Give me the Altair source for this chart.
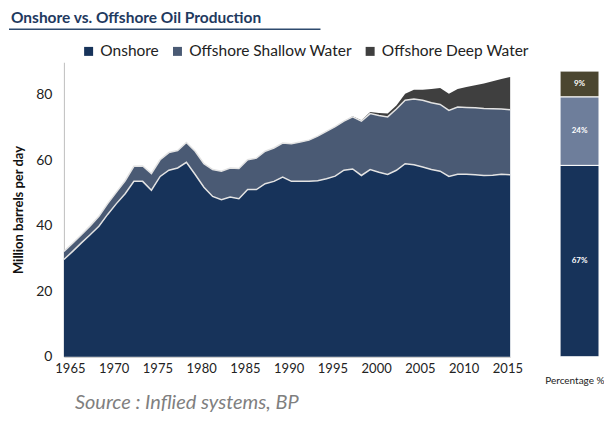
import altair as alt
import pandas as pd

# ---------------- data ----------------
years = list(range(1965, 2017))

onshore = [29.7, 32.2, 34.8, 37.3, 39.9, 43.5, 46.8, 49.8, 53.6, 53.6,
           50.9, 55.1, 57.0, 57.7, 59.4, 55.7, 51.8, 49.0, 48.0, 48.8,
           48.3, 51.1, 51.1, 52.9, 53.6, 54.9, 53.6, 53.6, 53.6, 53.8,
           54.4, 55.2, 57.0, 57.4, 55.4, 57.2, 56.4, 55.7, 57.0, 59.0,
           58.7, 58.0, 57.2, 56.7, 55.1, 55.8, 55.8, 55.6, 55.4, 55.5,
           55.8, 55.6]

shallow = [2.5, 2.5, 2.5, 2.7, 3.0, 3.3, 3.5, 4.0, 4.6, 4.7,
           5.1, 5.1, 5.4, 5.3, 6.1, 7.1, 7.2, 8.2, 8.7, 8.9,
           9.2, 9.1, 9.6, 9.9, 10.2, 10.4, 11.5, 12.0, 12.6, 13.6,
           14.5, 15.1, 15.0, 15.9, 16.6, 17.1, 17.3, 17.6, 18.7, 19.4,
           20.1, 20.4, 20.4, 20.4, 20.2, 20.5, 20.4, 20.5, 20.5, 20.3,
           19.9, 19.9]

deep = [0, 0, 0, 0, 0, 0, 0, 0, 0, 0,
        0, 0, 0, 0, 0, 0, 0, 0, 0, 0,
        0, 0, 0, 0, 0, 0, 0, 0, 0, 0,
        0, 0, 0, 0.2, 0.3, 0.5, 0.8, 1.0, 1.1, 2.0,
        2.8, 3.2, 4.2, 5.0, 5.1, 5.5, 6.2, 6.9, 7.6, 8.4,
        9.2, 10.0]

series_names = ["Onshore", "Offshore Shallow Water", "Offshore Deep Water"]
area_colors = ["#17335A", "#4A5A74", "#3F3F3F"]

share_pct = [67, 24, 9]
share_colors = ["#17335A", "#6E7E9B", "#4B4630"]

x_tick_years = [1965, 1970, 1975, 1980, 1985, 1990, 1995, 2000, 2005, 2010, 2015]
y_tick_values = [0, 20, 40, 60, 80]

title_text = "Onshore vs. Offshore Oil Production"
source_text = "Source : Inflied systems, BP"
y_title = "Million barrels per day"
share_title = "Percentage %"

# ---------------- tables ----------------
rows = []
for i, yr in enumerate(years):
    for k, (name, vals) in enumerate(zip(series_names, [onshore, shallow, deep])):
        rows.append({"year": yr, "series": name, "value": vals[i], "ord": k})
area_df = pd.DataFrame(rows)

line_rows = []
for i, yr in enumerate(years):
    line_rows.append({"year": yr, "edge": "onshore", "top": onshore[i]})
    line_rows.append({"year": yr, "edge": "shallow", "top": onshore[i] + shallow[i]})
line_df = pd.DataFrame(line_rows)

share_df = pd.DataFrame({
    "series": series_names,
    "pct": share_pct,
    "ord": [0, 1, 2],
    "label": [f"{p}%" for p in share_pct],
    "panel": ["share"] * 3,
})

# ---------------- left panel ----------------
x_scale = alt.Scale(domain=[years[0], years[-1]], nice=False, zero=False)
x_axis = alt.Axis(values=x_tick_years, format="d", title=None, ticks=False, grid=False,
                  domainColor="#BFBFBF", labelFontSize=13, labelColor="#222222",
                  labelPadding=6, labelFlush=False, labelOverlap=False, labelOffset=6)
y_scale = alt.Scale(domain=[0, 90], nice=False)
y_axis = alt.Axis(values=y_tick_values, title=y_title, titleFontSize=13,
                  titleFontWeight="bold", titleColor="#111111", titlePadding=10,
                  labelFontSize=14, labelColor="#222222", labelPadding=12,
                  ticks=False, grid=False, domainColor="#BFBFBF")

areas = alt.Chart(area_df).mark_area(opacity=1).encode(
    x=alt.X("year:Q", scale=x_scale, axis=x_axis),
    y=alt.Y("value:Q", stack="zero", scale=y_scale, axis=y_axis),
    color=alt.Color("series:N",
                    scale=alt.Scale(domain=series_names, range=area_colors),
                    legend=alt.Legend(orient="none", legendX=17, legendY=-19,
                                      direction="horizontal", title=None,
                                      symbolType="square", symbolSize=81,
                                      symbolStrokeWidth=0, labelFontSize=15.5,
                                      labelColor="#222222", labelOffset=4,
                                      labelLimit=400, columnPadding=10)),
    order=alt.Order("ord:Q", sort="ascending"),
)

edges = alt.Chart(line_df).mark_line(color="#E3E3E3", strokeWidth=1.5).encode(
    x=alt.X("year:Q", title=None),
    y=alt.Y("top:Q", title=y_title),
    detail="edge:N",
)

title_layer = alt.Chart(pd.DataFrame({"t": [title_text]})).mark_text(
    align="left", baseline="middle", fontSize=15.5, fontWeight="bold", color="#1F3A5F"
).encode(x=alt.value(-53), y=alt.value(-44), text="t:N")

rule_layer = alt.Chart(pd.DataFrame({"t": [title_text]})).mark_rule(
    color="#2E4A6E", strokeWidth=1.5
).encode(x=alt.value(-55), x2=alt.value(257), y=alt.value(-33))

source_layer = alt.Chart(pd.DataFrame({"t": [source_text]})).mark_text(
    align="left", baseline="middle", fontSize=20, fontStyle="italic", color="#7F7F7F"
).encode(x=alt.value(11), y=alt.value(341), text="t:N")

left = alt.layer(areas, edges, title_layer, rule_layer, source_layer).properties(
    width=447, height=295)

# ---------------- right panel ----------------
bar_x = alt.X("panel:N", scale=alt.Scale(paddingInner=0, paddingOuter=0),
              axis=alt.Axis(title=share_title, labels=False, ticks=False, domain=False,
                            titleFontSize=10, titleFontWeight="normal",
                            titleColor="#222222", titlePadding=19,
                            titleAnchor="end", titleAlign="right", titleX=44))
bar_y_scale = alt.Scale(domain=[0, 103.1], nice=False)

bars = alt.Chart(share_df).mark_bar(stroke="white", strokeWidth=1).encode(
    x=bar_x,
    y=alt.Y("pct:Q", stack="zero", scale=bar_y_scale, axis=None),
    color=alt.Color("series:N", scale=alt.Scale(domain=series_names, range=share_colors),
                    legend=None),
    order=alt.Order("ord:Q", sort="ascending"),
)

bar_labels = alt.Chart(share_df).transform_stack(
    stack="pct", groupby=["panel"], as_=["y0", "y1"],
    sort=[alt.SortField("ord", order="ascending")]
).transform_calculate(
    mid="(datum.y0 + datum.y1) / 2"
).mark_text(color="white", fontSize=8, fontWeight="bold").encode(
    x=alt.X("panel:N"),
    y=alt.Y("mid:Q"),
    text="label:N",
)

right = alt.layer(bars, bar_labels).properties(width=39, height=295)

chart = alt.hconcat(left, right, spacing=50, bounds="flush").resolve_scale(
    color="independent", x="independent", y="independent"
).properties(
    padding={"top": 3, "left": 0, "right": 0, "bottom": 0}, background="white"
).configure(font="Lato").configure_view(stroke=None)

chart.save("out.html", embed_options={"renderer": "svg", "actions": False})
